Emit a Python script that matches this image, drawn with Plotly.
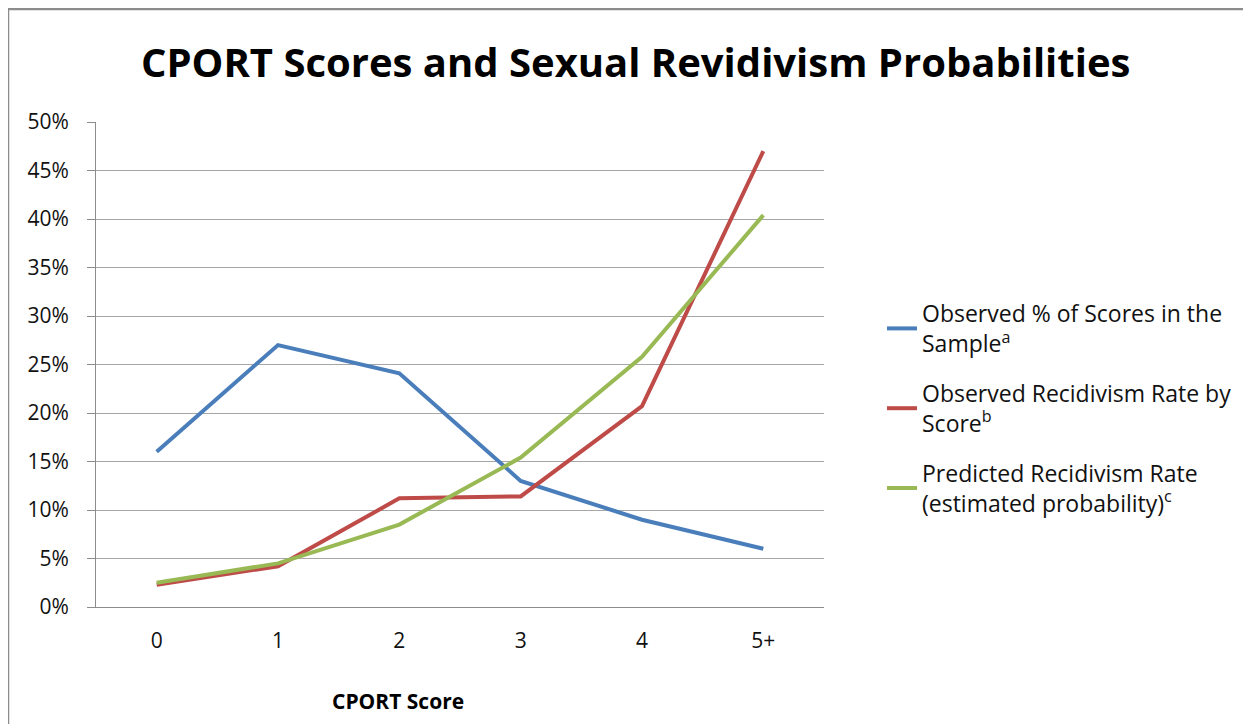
import plotly.graph_objects as go

categories = ["0", "1", "2", "3", "4", "5+"]
observed_pct = [16.0, 27.0, 24.1, 13.0, 9.0, 6.0]
observed_recid = [2.3, 4.2, 11.2, 11.4, 20.7, 47.0]
predicted_recid = [2.5, 4.5, 8.5, 15.4, 25.8, 40.4]
y_ticks = [0, 5, 10, 15, 20, 25, 30, 35, 40, 45, 50]
y_tick_text = [f"{v}%" for v in y_ticks]

names = [
    "Observed % of Scores in the<br>Sample<sup>a</sup>",
    "Observed Recidivism Rate by<br>Score<sup>b</sup>",
    "Predicted Recidivism Rate<br>(estimated probability)<sup>c</sup>",
]
colors = ["#4A7EBB", "#BE4B48", "#98B954"]
series = [observed_pct, observed_recid, predicted_recid]

FONT = "Open Sans"
OFF = 8  # page body margin offset
W, H = 1251 - OFF, 724 - OFF
# plot-area edges in figure pixels
PL, PR, PT, PB = 96 - OFF, 824 - OFF, 122 - OFF, 607 - OFF
PW, PH = PR - PL, PB - PT


def px(xs):
    return (xs - OFF - PL) / PW


def py(ys):
    return (PB - (ys - OFF)) / PH


fig = go.Figure()
for i, (nm, col, vals) in enumerate(zip(names, colors, series)):
    fig.add_trace(go.Scatter(
        x=categories, y=vals, mode="lines", name=nm,
        line=dict(color=col, width=4), legendgroup=f"g{i}",
    ))

fig.update_layout(
    width=W, height=H,
    margin=dict(l=PL, r=W - PR, t=PT, b=H - PB, pad=0),
    paper_bgcolor="white", plot_bgcolor="white",
    font=dict(family=FONT, size=21, color="#111"),
    showlegend=True,
    legend=dict(
        x=px(922 - 40), y=py(292), xanchor="left", yanchor="top",
        font=dict(family=FONT, size=23, color="#111"),
        tracegroupgap=17, bgcolor="rgba(0,0,0,0)", borderwidth=0,
    ),
    xaxis=dict(
        type="category", range=[-0.5, 5.5], showgrid=False,
        showline=True, linecolor="#8C8C8C", linewidth=1,
        ticks="", tickfont=dict(family=FONT, size=21, color="#111"),
        ticklabelstandoff=15,
    ),
    yaxis=dict(
        range=[0, 50], tickvals=y_ticks, ticktext=y_tick_text,
        showgrid=True, gridcolor="#A6A6A6", gridwidth=1,
        showline=True, linecolor="#8C8C8C", linewidth=1,
        ticks="outside", ticklen=8, tickcolor="#8C8C8C",
        tickfont=dict(family=FONT, size=21, color="#111"),
        ticklabelstandoff=14, zeroline=False,
    ),
    annotations=[
        dict(text="<b>CPORT Scores and Sexual Revidivism Probabilities</b>",
             xref="paper", yref="paper", x=px(635.5), y=py(61),
             xanchor="center", yanchor="middle", showarrow=False,
             font=dict(family=FONT, size=40, color="#000")),
        dict(text="<b>CPORT Score</b>",
             xref="paper", yref="paper", x=px(398), y=py(701),
             xanchor="center", yanchor="middle", showarrow=False,
             font=dict(family=FONT, size=21, color="#000")),
    ],
    shapes=[
        dict(type="rect", xref="paper", yref="paper",
             x0=px(8), x1=px(1280), y0=py(760), y1=py(9),
             line=dict(color="#8C8C8C", width=2.5), fillcolor="rgba(0,0,0,0)", layer="below"),
    ],
)

fig.write_html("out.html")
